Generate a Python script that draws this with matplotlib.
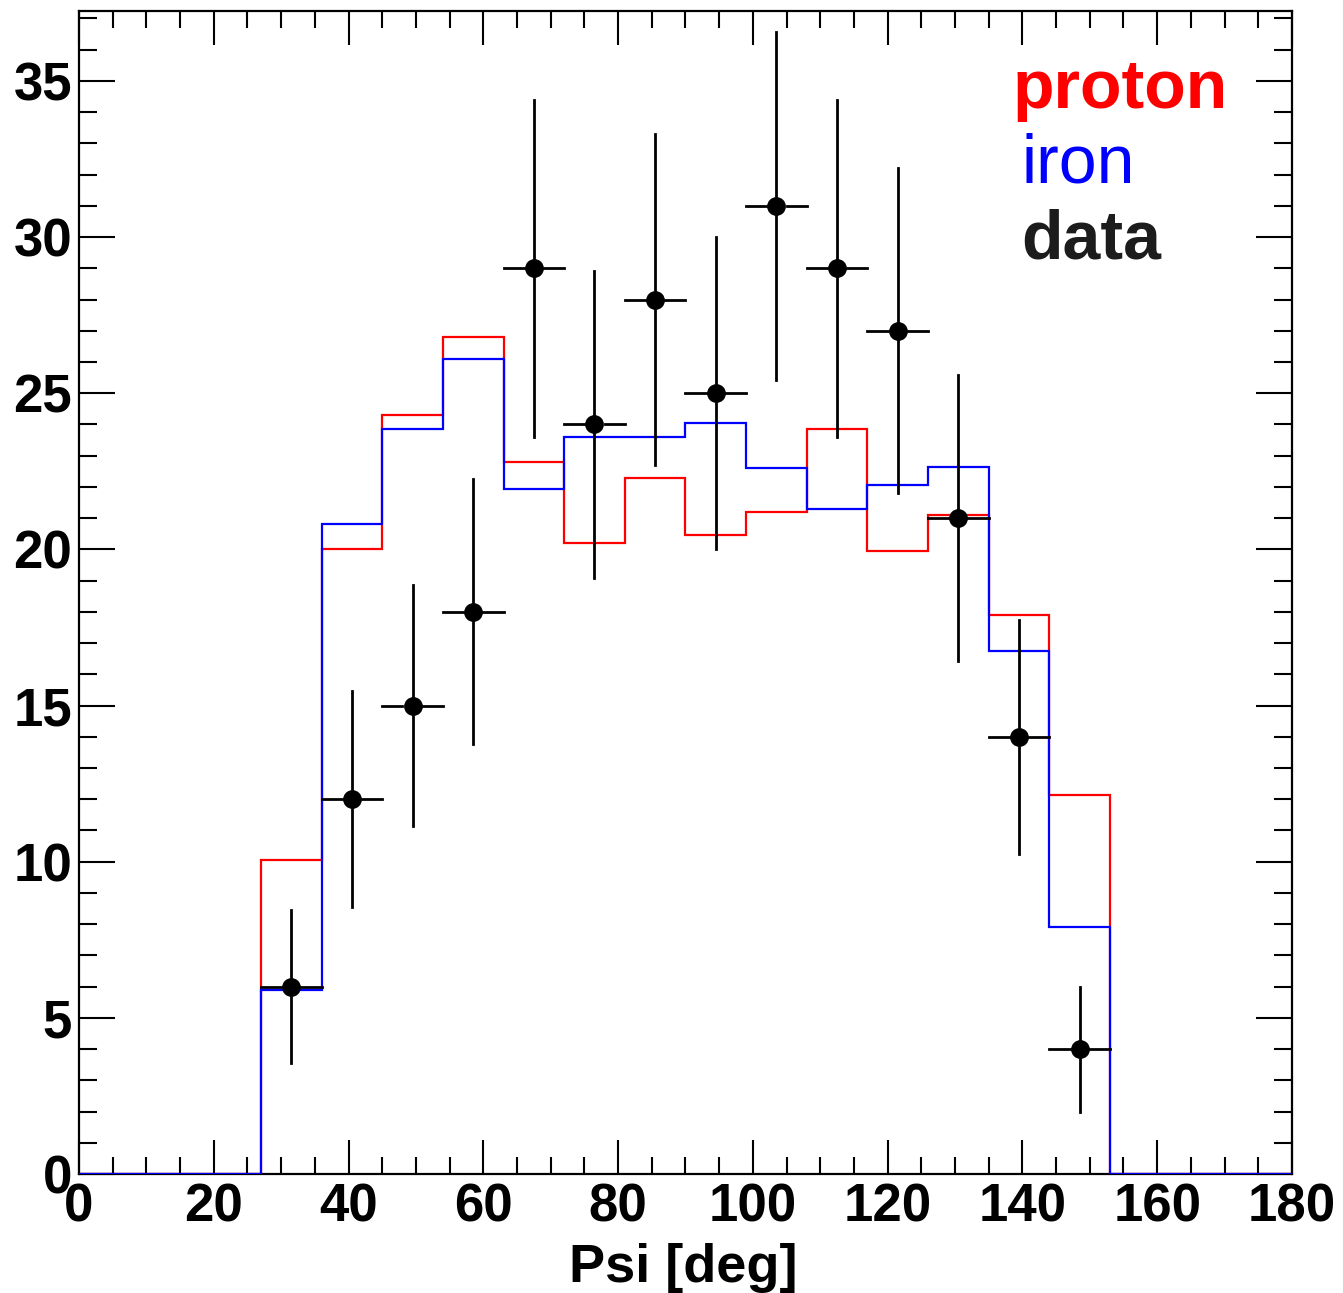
import numpy as np
import matplotlib.pyplot as plt
from matplotlib.ticker import MultipleLocator

plt.rcParams['font.family'] = ['Liberation Sans', 'DejaVu Sans']

# Binning: 20 bins of 9 deg from 0 to 180
edges = np.arange(0, 181, 9)

# Simulated histograms (proton / iron)
proton = [0, 0, 0, 10.05, 20.0, 24.3, 26.8, 22.8, 20.2, 22.3,
          20.45, 21.2, 23.85, 19.95, 21.1, 17.9, 12.15, 0, 0, 0]
iron = [0, 0, 0, 5.9, 20.8, 23.85, 26.1, 21.95, 23.6, 23.6,
        24.05, 22.6, 21.3, 22.05, 22.65, 16.75, 7.9, 0, 0, 0]

# Data points (bin centres, counts, errors)
data_x = [31.5, 40.5, 49.5, 58.5, 67.5, 76.5, 85.5, 94.5, 103.5, 112.5,
          121.5, 130.5, 139.5, 148.5]
data_y = [6, 12, 15, 18, 29, 24, 28, 25, 31, 29, 27, 21, 14, 4]
data_err = [2.45, 3.46, 3.87, 4.24, 5.39, 4.9, 5.29, 5.0, 5.57, 5.39,
            5.2, 4.58, 3.74, 2.0]

fig = plt.figure(figsize=(13.43, 12.93), dpi=100)
ax = fig.add_axes([0.0588, 0.0920, 0.9032, 0.8995])

ax.stairs(proton, edges, baseline=None, color='#ff0000', lw=1.6, zorder=2)
ax.stairs(iron, edges, baseline=None, color='#0000ff', lw=1.6, zorder=3)

# error bars with a gap around the marker (ROOT style)
gx = 1.5    # half gap in x (data units)
gy = 0.32   # half gap in y
half = 4.5
for x, y, e in zip(data_x, data_y, data_err):
    ax.plot([x - half, x - gx], [y, y], color='black', lw=2, zorder=4)
    ax.plot([x + gx, x + half], [y, y], color='black', lw=2, zorder=4)
    ax.plot([x, x], [y + gy, y + e], color='black', lw=2, zorder=4)
    ax.plot([x, x], [y - e, y - gy], color='black', lw=2, zorder=4)
ax.plot(data_x, data_y, 'o', color='black', ms=12.5, zorder=5)

ax.set_xlim(0, 180)
ax.set_ylim(0, 37.24)

ax.xaxis.set_major_locator(MultipleLocator(20))
ax.xaxis.set_minor_locator(MultipleLocator(5))
ax.yaxis.set_major_locator(MultipleLocator(5))
ax.yaxis.set_minor_locator(MultipleLocator(1))
ax.tick_params(which='both', direction='in', top=True, right=True, width=1.5)
ax.tick_params(which='major', axis='x', length=24.5, pad=6)
ax.tick_params(which='minor', axis='x', length=12.2)
ax.tick_params(which='major', axis='y', length=26, pad=5)
ax.tick_params(which='minor', axis='y', length=13)
for lab in ax.get_xticklabels() + ax.get_yticklabels():
    lab.set_fontsize(38)
    lab.set_fontweight('bold')
for sp in ax.spines.values():
    sp.set_linewidth(1.6)

ax.text(0.592, -0.0929, 'Psi [deg]', transform=ax.transAxes, ha='right',
        va='baseline', fontsize=39, fontweight='bold')

# legend texts
ax.text(138.6, 34.13, 'proton', color='#ff0000', fontsize=49,
        fontweight='bold', va='baseline')
ax.text(139.8, 31.76, 'iron', color='#0000ff', fontsize=49, va='baseline')
ax.text(139.8, 29.33, 'data', color='#1c1c1c', fontsize=49,
        fontweight='bold', va='baseline')

fig.savefig('out.png', dpi=100)
